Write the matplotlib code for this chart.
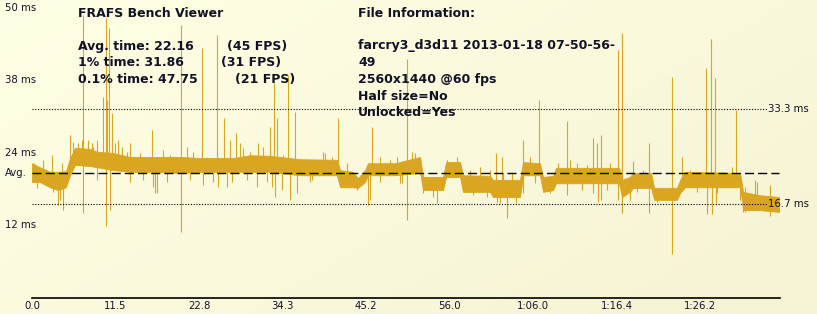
import matplotlib.pyplot as plt
import numpy as np
from matplotlib.transforms import blended_transform_factory

# ------------------------------------------------------------
# Valeurs (frame index -> temps de frame en ms)
# ------------------------------------------------------------
avg_ms = 22.16
ref_lines = [33.3, 16.7]
ref_labels = ["33.3 ms", "16.7 ms"]

tick_frames = [0, 485, 970, 1455, 1940, 2425, 2910, 3395, 3880]
tick_labels = ["0.0", "11.5", "22.8", "34.3", "45.2", "56.0", "1:06.0", "1:16.4", "1:26.2"]

y_labels = ["50 ms", "38 ms", "24 ms", "Avg.", "12 ms"]
y_label_ms = [51.0, 38.4, 25.7, 22.16, 13.1]

# bande principale du tracé
band_frame = [0, 46, 105, 151, 197, 221, 250, 337, 378, 470, 569, 714, 860, 993,
              1167, 1266, 1382, 1557, 1771, 1789, 1864, 1893, 1934, 1951, 2108,
              2254, 2271, 2387, 2405, 2486, 2503, 2660, 2677, 2834, 2852, 2950,
              2968, 3026, 3043, 3409, 3427, 3473, 3491, 3595, 3613, 3746, 3764,
              3793, 4112, 4130, 4228, 4339]
band_hi = [23.9, 23.2, 22.4, 22.4, 22.5, 24.8, 26.6, 26.4, 25.9, 25.7, 25.0, 25.0,
           25.0, 24.8, 24.8, 25.3, 25.2, 24.6, 24.5, 22.7, 22.4, 21.3, 22.7, 23.9,
           23.9, 25.0, 21.5, 21.5, 24.1, 24.1, 21.8, 21.7, 21.0, 21.0, 24.1, 23.9,
           21.5, 21.7, 23.1, 23.1, 21.0, 21.5, 22.2, 22.2, 19.6, 19.6, 21.0, 22.4,
           22.2, 18.9, 18.3, 18.0]
band_lo = [20.6, 20.6, 19.7, 19.2, 19.7, 21.8, 23.6, 23.4, 23.2, 22.7, 22.4, 22.4,
           22.2, 22.4, 22.4, 22.4, 22.4, 21.8, 21.8, 19.7, 19.7, 19.6, 20.6, 21.8,
           21.8, 22.2, 19.2, 19.2, 21.5, 21.5, 18.9, 18.9, 18.0, 18.0, 21.8, 21.8,
           18.9, 19.2, 20.4, 20.4, 18.0, 18.9, 19.6, 19.6, 17.5, 17.5, 18.7, 19.7,
           19.7, 15.7, 15.7, 15.4]

# pics vers le haut (grands)
up_frame = [116, 221, 238, 267, 296, 325, 354, 412, 430, 436, 447, 465, 499, 569,
            697, 865, 900, 987, 1074, 1115, 1185, 1208, 1313, 1382, 1406, 1423,
            1487, 1528, 1702, 1777, 1975, 2178, 2207, 2468, 2695, 2730, 2852, 2945,
            3107, 3125, 3258, 3282, 3305, 3404, 3427, 3491, 3584, 3717, 3775, 3915,
            3944, 3967, 4089, 4199, 4286]
up_ms = [25.3, 28.8, 27.6, 27.4, 49.8, 28.0, 26.7, 35.5, 49.3, 34.9, 47.5, 32.7,
         28.0, 27.4, 29.7, 48.1, 26.7, 44.0, 46.3, 31.8, 29.2, 27.4, 27.4, 30.2,
         37.9, 31.8, 39.3, 32.8, 25.7, 31.8, 30.2, 42.1, 25.9, 25.0, 25.7, 25.0,
         28.0, 34.9, 31.3, 24.5, 28.3, 27.4, 28.8, 43.7, 46.7, 24.3, 27.4, 39.0,
         25.0, 40.5, 45.6, 38.8, 33.2, 21.0, 20.1]

# pics vers le haut (petits, texture de la bande)
up_small_frame = [12, 64, 174, 290, 348, 378, 482, 523, 552, 627, 668, 761, 801,
                  935, 1016, 1150, 1225, 1266, 1342, 1458, 1574, 1690, 1742, 1830,
                  2021, 2079, 2120, 2224, 2410, 2544, 2602, 2660, 2736, 2788, 2892,
                  3055, 3165, 3223, 3357, 3549, 3822, 4013, 4066, 4141, 4211]
up_small_ms = [23.9, 24.5, 23.9, 28.0, 27.4, 28.0, 27.4, 26.7, 25.9, 25.7, 25.0,
               26.2, 25.3, 25.9, 25.0, 28.0, 26.6, 25.9, 26.7, 25.3, 24.5, 25.9,
               25.0, 23.9, 25.0, 24.5, 25.0, 25.7, 24.5, 22.7, 23.2, 22.7, 22.2,
               22.2, 25.0, 23.9, 23.9, 23.6, 23.9, 22.7, 22.7, 22.4, 23.2, 19.7,
               20.6]

# pics vers le bas
down_frame = [29, 151, 180, 296, 430, 453, 714, 865, 993, 1080, 1133, 1307, 1411,
              1498, 1626, 1830, 1951, 2149, 2178, 2352, 2701, 2759, 2811, 2852,
              2921, 3107, 3287, 3305, 3404, 3427, 3584, 3717, 3920, 3949, 3973,
              4130, 4170, 4286]
down_ms = [19.6, 16.6, 15.7, 15.2, 12.9, 15.7, 18.7, 11.9, 20.1, 19.7, 19.7, 19.7,
           18.0, 17.5, 21.0, 20.1, 16.6, 20.4, 14.0, 16.9, 17.1, 14.3, 16.9, 18.7,
           20.4, 18.3, 17.1, 17.5, 17.5, 15.2, 15.2, 8.0, 15.0, 15.0, 16.9, 15.4,
           16.1, 14.7]

down_small_frame = [87, 122, 163, 378, 569, 645, 703, 726, 784, 918, 1051, 1162,
                    1249, 1365, 1394, 1452, 1539, 1615, 1801, 1888, 1963, 2021,
                    2137, 2271, 2329, 2561, 2643, 2718, 2794, 3009, 3194, 3258,
                    3340, 3473, 3514, 3630, 3688, 3862, 3978, 4112, 4141, 4188]
down_small_ms = [20.1, 18.9, 17.5, 21.0, 20.6, 21.0, 19.7, 18.7, 20.6, 21.0, 20.6,
                 20.6, 21.0, 20.6, 19.7, 19.2, 18.7, 20.6, 19.7, 19.2, 17.5, 20.6,
                 20.4, 18.7, 18.0, 18.3, 18.0, 16.9, 18.0, 18.7, 19.2, 18.7, 19.2,
                 17.5, 18.9, 17.1, 17.5, 18.9, 18.7, 17.5, 15.4, 15.7]

header_left = ["Avg. time: 22.16", "1% time: 31.86", "0.1% time: 47.75"]
fps_left = ["(45 FPS)", "(31 FPS)", "(21 FPS)"]
file_info = ["farcry3_d3d11 2013-01-18 07-50-56-", "49", "2560x1440 @60 fps",
             "Half size=No", "Unlocked=Yes"]

# ------------------------------------------------------------
W, H = 817, 314
trace_col = "#DAA520"
txt_col = "#121226"

fig = plt.figure(figsize=(W / 100, H / 100), dpi=100)

# fond dégradé jaune pâle
bg = fig.add_axes([0, 0, 1, 1], zorder=0)
gx, gy = np.meshgrid(np.linspace(0, 1, 200), np.linspace(0, 1, 80))
t = (0.6 * gx + 0.4 * gy)[..., None]
c0 = np.array([255, 255, 229]) / 255
c1 = np.array([246, 243, 211]) / 255
bg.imshow(c0 * (1 - t) + c1 * t, aspect="auto", extent=[0, 1, 0, 1], origin="upper")
bg.axis("off")

def px(x, y):
    return x / W, 1 - y / H

# axes: 0 ms ~ y=300 px, 5.723 px/ms
ax = fig.add_axes([32 / W, (H - 298.3) / H, (780 - 32) / W, 298.3 / H], zorder=1)
ax.patch.set_alpha(0)
ax.set_xlim(0, 4344)
ax.set_ylim(0.3, 52.42)

bf = np.array(band_frame)
mid = (np.array(band_hi) + np.array(band_lo)) / 2

ax.fill_between(band_frame, band_lo, band_hi, color=trace_col, lw=0.6, zorder=2)
for fr, ms in [(up_frame, up_ms), (up_small_frame, up_small_ms)]:
    ax.vlines(fr, np.interp(fr, bf, mid), ms, color=trace_col, lw=0.8, zorder=2)
for fr, ms in [(down_frame, down_ms), (down_small_frame, down_small_ms)]:
    ax.vlines(fr, ms, np.interp(fr, bf, mid), color=trace_col, lw=0.8, zorder=2)

# lignes de référence
for v in ref_lines:
    ax.plot([0, 4270], [v, v], color="black", lw=0.8, ls=(0, (1, 1.5)), zorder=3)
ax.plot([0, 4339], [avg_ms, avg_ms], color="black", lw=1.0, ls=(0, (6.5, 3)), zorder=3)

for v, lab in zip(ref_lines, ref_labels):
    ax.text(4275, v, lab, fontsize=7.3, color=txt_col, va="center", ha="left",
            clip_on=False, zorder=4)

# axe x
for s in ["top", "right", "left"]:
    ax.spines[s].set_visible(False)
ax.spines["bottom"].set_linewidth(1.2)
ax.set_xticks(tick_frames)
ax.set_xticklabels(tick_labels, fontsize=7.3, color=txt_col)
ax.tick_params(axis="x", length=0, pad=2)
ax.set_yticks([])

# étiquettes y à gauche
tr = blended_transform_factory(fig.transFigure, ax.transData)
for lab, v in zip(y_labels, y_label_ms):
    ax.text(5 / W, v, lab, transform=tr, fontsize=7.3, color=txt_col,
            va="center", ha="left", clip_on=False)

# bloc d'informations
bold = dict(fontsize=9.0, fontweight="bold", color=txt_col, va="baseline",
            ha="left", zorder=5)
fig.text(*px(78, 17), "FRAFS Bench Viewer", **bold)
fps_x = [227, 221, 235]
for i, (a, b) in enumerate(zip(header_left, fps_left)):
    y = [50, 66, 83][i]
    fig.text(*px(78, y), a, **bold)
    fig.text(*px(fps_x[i], y), b, **bold)

fig.text(*px(358, 17), "File Information:", **bold)
for lab, y in zip(file_info, [49.5, 66, 83, 100, 116]):
    fig.text(*px(358, y), lab, **bold)

fig.savefig("out.png", dpi=100)
